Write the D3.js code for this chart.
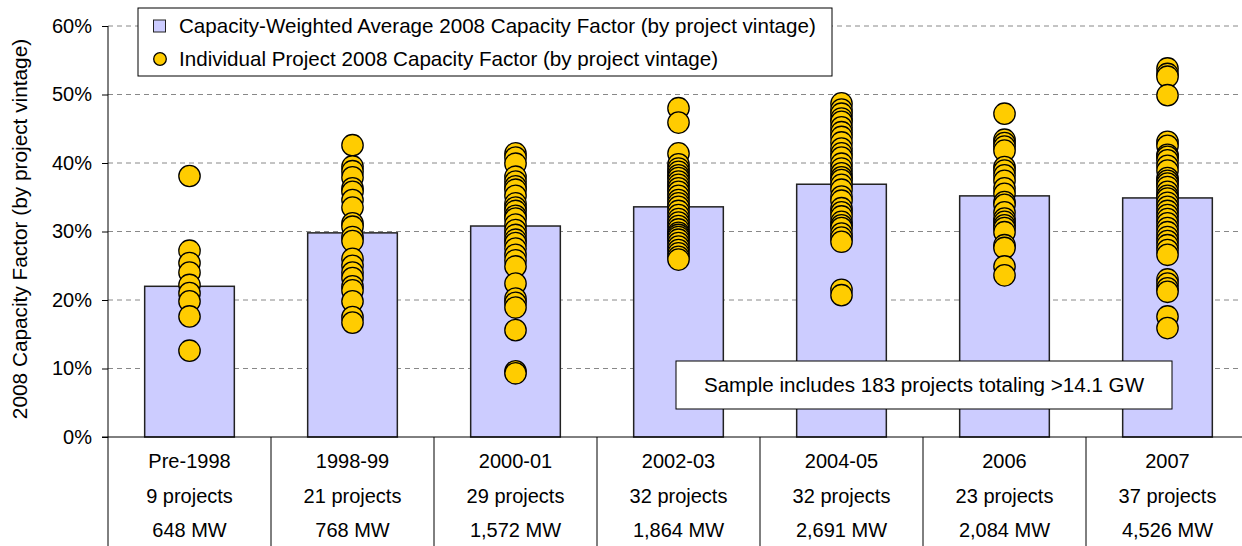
<!DOCTYPE html>
<html>
<head>
<meta charset="utf-8">
<script src="https://cdn.jsdelivr.net/npm/d3@7"></script>
<style>
  body { margin: 0; background: #fff; }
  svg { font-family: "Liberation Sans", Arial, sans-serif; }
</style>
</head>
<body>
<div id="chart"></div>
<script>
// data
var vintages = ["Pre-1998", "1998-99", "2000-01", "2002-03", "2004-05", "2006", "2007"];
var projectCounts = ["9 projects", "21 projects", "29 projects", "32 projects", "32 projects", "23 projects", "37 projects"];
var capacities = ["648 MW", "768 MW", "1,572 MW", "1,864 MW", "2,691 MW", "2,084 MW", "4,526 MW"];
var weightedAvg = [22.0, 29.8, 30.8, 33.6, 36.9, 35.2, 34.9];
var projectFactors = [
  [38.1, 27.2, 25.4, 24.0, 22.2, 21.0, 19.8, 17.6, 12.6],
  [42.6, 39.5, 38.8, 37.9, 36.3, 35.8, 34.6, 33.5, 31.2, 30.7, 29.2, 28.6, 26.0, 25.0, 24.0, 23.2, 22.0, 21.4, 19.8, 17.5, 16.7],
  [41.4, 40.8, 39.9, 38.0, 37.3, 36.6, 36.1, 35.2, 34.1, 33.5, 33.0, 32.3, 31.9, 31.0, 30.2, 29.5, 28.8, 28.3, 27.5, 26.6, 25.8, 24.9, 22.4, 20.2, 19.6, 18.9, 15.6, 9.6, 9.3],
  [48.0, 45.9, 41.4, 39.8, 39.2, 38.7, 38.2, 37.8, 37.3, 36.8, 36.3, 35.8, 35.2, 34.6, 34.1, 33.6, 33.0, 32.4, 31.8, 31.3, 30.8, 30.3, 29.8, 29.5, 29.2, 28.8, 28.3, 27.8, 27.3, 26.8, 26.3, 25.9],
  [48.7, 47.8, 47.2, 46.5, 46.0, 45.2, 44.5, 43.8, 43.0, 42.1, 41.4, 40.8, 39.9, 39.2, 38.5, 37.9, 37.5, 36.8, 36.1, 35.1, 34.5, 33.4, 32.8, 32.2, 31.4, 30.9, 30.5, 29.7, 29.1, 28.5, 21.5, 20.7],
  [47.2, 43.4, 42.9, 42.4, 41.8, 39.4, 38.9, 38.2, 37.4, 36.3, 35.5, 34.3, 33.9, 32.8, 31.9, 31.4, 30.9, 30.5, 29.9, 28.0, 27.6, 24.9, 23.6],
  [53.8, 53.0, 52.6, 49.9, 43.1, 42.5, 41.2, 40.9, 40.4, 39.6, 38.9, 37.8, 37.4, 37.0, 36.5, 35.8, 35.2, 34.8, 34.2, 33.6, 33.0, 32.4, 31.8, 31.2, 30.5, 29.9, 29.2, 28.6, 28.0, 27.3, 26.6, 23.0, 22.4, 21.7, 21.2, 17.6, 15.9]
];
var yTicks = [0, 10, 20, 30, 40, 50, 60];
var legendLabels = ["Capacity-Weighted Average 2008 Capacity Factor (by project vintage)",
                    "Individual Project 2008 Capacity Factor (by project vintage)"];
var noteText = "Sample includes 183 projects totaling >14.1 GW";

var svgWidth = 1242;
var svgHeight = 546;
var plotLeft = 108, plotRight = 1249, plotTop = 26, plotBottom = 437;

var svg = d3.select("#chart")
  .append("svg")
  .attr("width", svgWidth)
  .attr("height", svgHeight);

var x = d3.scaleBand()
  .domain(vintages)
  .range([plotLeft, plotRight]);

var y = d3.scaleLinear()
  .domain([0, 60])
  .range([plotBottom, plotTop]);

var bw = x.bandwidth();
var barW = bw * 0.55;

// gridlines
svg.append("g")
  .selectAll("line")
  .data(yTicks.filter(d => d > 0))
  .enter()
  .append("line")
  .attr("x1", plotLeft)
  .attr("x2", svgWidth)
  .attr("y1", d => y(d))
  .attr("y2", d => y(d))
  .attr("stroke", "#888")
  .attr("stroke-width", 1)
  .attr("stroke-dasharray", "5,4");

// y axis
var leftAxis = d3.axisLeft(y)
  .tickValues(yTicks)
  .tickFormat(d => d + "%")
  .tickSize(6)
  .tickPadding(10);

var yAxis = svg.append("g")
  .attr("transform", `translate(${plotLeft}, 0)`)
  .call(leftAxis);
yAxis.select(".domain").remove();
yAxis.selectAll("line").attr("stroke", "#000");
yAxis.selectAll("text")
  .attr("font-size", "20px")
  .attr("font-family", "Liberation Sans, Arial, sans-serif")
  .attr("fill", "#000");

// axis line down through the table
svg.append("line")
  .attr("x1", plotLeft).attr("x2", plotLeft)
  .attr("y1", plotTop).attr("y2", svgHeight)
  .attr("stroke", "#000");

// bars
svg.append("g")
  .selectAll("rect")
  .data(vintages)
  .enter()
  .append("rect")
  .attr("x", d => x(d) + (bw - barW) / 2)
  .attr("y", (d, i) => y(weightedAvg[i]))
  .attr("width", barW)
  .attr("height", (d, i) => y(0) - y(weightedAvg[i]))
  .attr("fill", "#ccccff")
  .attr("stroke", "#222")
  .attr("stroke-width", 1.5);

// baseline
svg.append("line")
  .attr("x1", plotLeft - 6).attr("x2", svgWidth)
  .attr("y1", y(0)).attr("y2", y(0))
  .attr("stroke", "#000");

// table under the axis
svg.append("g")
  .selectAll("line")
  .data(vintages.slice(1))
  .enter()
  .append("line")
  .attr("x1", d => x(d)).attr("x2", d => x(d))
  .attr("y1", y(0)).attr("y2", svgHeight)
  .attr("stroke", "#000");

var rows = [vintages, projectCounts, capacities];
rows.forEach(function(row, r) {
  svg.append("g")
    .selectAll("text")
    .data(row)
    .enter()
    .append("text")
    .attr("x", (d, i) => x(vintages[i]) + bw / 2)
    .attr("y", y(0) + 31 + r * 34.5)
    .attr("text-anchor", "middle")
    .attr("font-size", "20px")
    .text(d => d);
});

// individual project points
var points = [];
projectFactors.forEach(function(arr, i) {
  arr.forEach(function(v) { points.push({ cat: vintages[i], v: v }); });
});

svg.append("g")
  .selectAll("circle")
  .data(points)
  .enter()
  .append("circle")
  .attr("cx", d => x(d.cat) + bw / 2)
  .attr("cy", d => y(d.v))
  .attr("r", 10.7)
  .attr("fill", "#ffcc00")
  .attr("stroke", "#000")
  .attr("stroke-width", 1.3);

// y axis title
svg.append("text")
  .attr("transform", `translate(27, 229) rotate(-90)`)
  .attr("text-anchor", "middle")
  .attr("font-size", "20.8px")
  .text("2008 Capacity Factor (by project vintage)");

// legend
var legend = svg.append("g");
legend.append("rect")
  .attr("x", 138).attr("y", 8)
  .attr("width", 694).attr("height", 68)
  .attr("fill", "#fff")
  .attr("stroke", "#000");
legend.append("rect")
  .attr("x", 153.5).attr("y", 20)
  .attr("width", 12).attr("height", 12)
  .attr("fill", "#ccccff")
  .attr("stroke", "#222");
legend.append("circle")
  .attr("cx", 160).attr("cy", 59)
  .attr("r", 6.3)
  .attr("fill", "#ffcc00")
  .attr("stroke", "#000")
  .attr("stroke-width", 1.3);
legend.selectAll("text.leg")
  .data(legendLabels)
  .enter()
  .append("text")
  .attr("x", 179)
  .attr("y", (d, i) => 33 + i * 33)
  .attr("font-size", "20.6px")
  .text(d => d);

// sample note
svg.append("rect")
  .attr("x", 676).attr("y", 361)
  .attr("width", 496).attr("height", 48)
  .attr("fill", "#fff")
  .attr("stroke", "#000");
svg.append("text")
  .attr("x", 924).attr("y", 392)
  .attr("text-anchor", "middle")
  .attr("font-size", "20.6px")
  .text(noteText);
</script>
</body>
</html>
